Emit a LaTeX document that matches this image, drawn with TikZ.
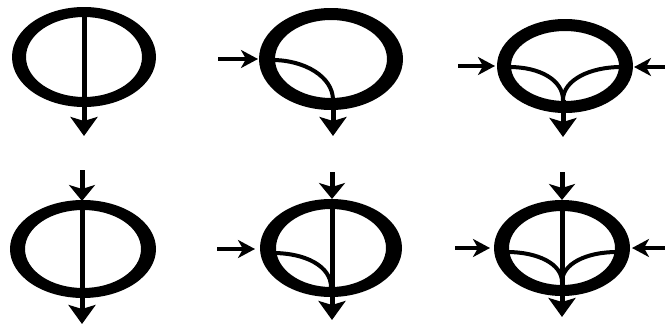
\documentclass[tikz,border=0pt]{standalone}
\usetikzlibrary{arrows.meta}
\begin{document}
\begin{tikzpicture}[x=1pt,y=-1pt,
  ringshape/.style={fill=black,even odd rule},
  mainflow/.style={line width=5pt,-{Stealth[length=19pt,width=27pt,inset=4pt]}},
  topflow/.style={line width=5pt,-{Stealth[length=16pt,width=26pt,inset=4pt]}},
  sideflow/.style={line width=4pt,-{Stealth[length=17pt,width=18pt,inset=5pt]}},
  branch/.style={line width=4pt}]
\useasboundingbox (0,0) rectangle (665,324);
% ---------- top row ----------
% figure 1
\coordinate (c1) at (84,57);
\fill[ringshape] (c1) ellipse [x radius=72pt,y radius=50pt] (c1) ellipse [x radius=58pt,y radius=40pt];
\coordinate (t1) at (84,9);
\coordinate (o1) at (84,136);
\draw[mainflow] (t1) -- (o1);
% figure 2
\coordinate (c2) at (331,59);
\fill[ringshape] (c2) ellipse [x radius=72pt,y radius=51pt] (c2) ellipse [x radius=56pt,y radius=39pt];
\coordinate (s2) at (218,59);
\coordinate (e2) at (258,59);
\draw[sideflow] (s2) -- (e2);
\coordinate (b2) at (272,60);
\coordinate (j2) at (333,100);
\coordinate (o2) at (333,136);
\draw[branch] (b2) .. controls (305,60) and (333,77) .. (j2);
\draw[mainflow] (j2) -- (o2);
% figure 3
\coordinate (c3) at (565,66);
\fill[ringshape] (c3) ellipse [x radius=68pt,y radius=47pt] (c3) ellipse [x radius=54pt,y radius=35pt];
\coordinate (s3l) at (458,66);
\coordinate (e3l) at (495,66);
\coordinate (s3r) at (666,67);
\coordinate (e3r) at (634,67);
\draw[sideflow] (s3l) -- (e3l);
\draw[sideflow] (s3r) -- (e3r);
\coordinate (b3l) at (509,67);
\coordinate (b3r) at (621,67);
\coordinate (j3) at (563,100);
\coordinate (o3) at (563,137);
\draw[branch] (b3l) .. controls (540,67) and (563,80) .. (j3);
\draw[branch] (b3r) .. controls (590,67) and (563,80) .. (j3);
\draw[mainflow] (j3) -- (o3);
% ---------- bottom row ----------
% figure 4
\coordinate (c4) at (83,249);
\fill[ringshape] (c4) ellipse [x radius=73pt,y radius=49pt] (c4) ellipse [x radius=58pt,y radius=39pt];
\coordinate (i4) at (82,170);
\coordinate (t4) at (82,201);
\coordinate (o4) at (82,324);
\draw[topflow] (i4) -- (t4);
\draw[mainflow] (t4) -- (o4);
% figure 5
\coordinate (c5) at (331,248);
\fill[ringshape] (c5) ellipse [x radius=71pt,y radius=49pt] (c5) ellipse [x radius=55pt,y radius=39pt];
\coordinate (i5) at (332,172);
\coordinate (t5) at (332,199);
\coordinate (o5) at (332,320);
\draw[topflow] (i5) -- (t5);
\draw[mainflow] (t5) -- (o5);
\coordinate (s5) at (217,249);
\coordinate (e5) at (255,249);
\draw[sideflow] (s5) -- (e5);
\coordinate (b5) at (273,253);
\coordinate (j5) at (331,287);
\draw[branch] (b5) .. controls (305,253) and (331,266) .. (j5);
% figure 6
\coordinate (c6) at (562,248);
\fill[ringshape] (c6) ellipse [x radius=68pt,y radius=48pt] (c6) ellipse [x radius=53pt,y radius=37pt];
\coordinate (i6) at (562,172);
\coordinate (t6) at (562,200);
\coordinate (o6) at (562,317);
\draw[topflow] (i6) -- (t6);
\draw[mainflow] (t6) -- (o6);
\coordinate (s6l) at (455,248);
\coordinate (e6l) at (490,248);
\coordinate (s6r) at (666,248);
\coordinate (e6r) at (632,248);
\draw[sideflow] (s6l) -- (e6l);
\draw[sideflow] (s6r) -- (e6r);
\coordinate (b6l) at (507,252);
\coordinate (b6r) at (617,252);
\coordinate (j6) at (562,282);
\draw[branch] (b6l) .. controls (538,252) and (562,264) .. (j6);
\draw[branch] (b6r) .. controls (586,252) and (562,264) .. (j6);
\end{tikzpicture}
\end{document}
